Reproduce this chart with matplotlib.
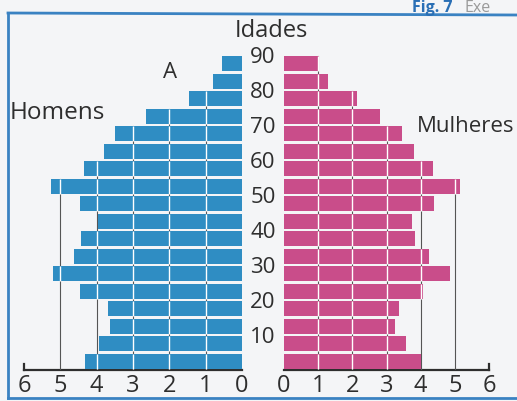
#! /usr/bin/env python3
#
import matplotlib
matplotlib.use('Agg')
import matplotlib.pyplot as plt
from matplotlib.lines import Line2D
from matplotlib.collections import LineCollection

plt.rcParams['font.family'] = ['Open Sans', 'DejaVu Sans']

# age groups, bottom (0-4) to top (85-89)
age_start = [0, 5, 10, 15, 20, 25, 30, 35, 40, 45, 50, 55, 60, 65, 70, 75, 80, 85]
homens = [4.33, 3.93, 3.63, 3.68, 4.45, 5.2, 4.62, 4.42, 3.95, 4.47,
          5.25, 4.35, 3.8, 3.5, 2.65, 1.45, 0.8, 0.55]
mulheres = [4.0, 3.58, 3.25, 3.38, 4.08, 4.85, 4.25, 3.83, 3.74, 4.4,
            5.15, 4.35, 3.8, 3.45, 2.8, 2.15, 1.3, 1.03]
age_ticks = [10, 20, 30, 40, 50, 60, 70, 80, 90]
x_ticks = [0, 1, 2, 3, 4, 5, 6]

blue = '#2f8dc3'
pink = '#c94d8a'
bg = '#f4f5f7'
dark = '#2e2e2e'

W, H = 517, 401
fig = plt.figure(figsize=(W / 100, H / 100), dpi=100, facecolor=bg)


def px_axes(x0, x1, y_top, y_bot):
    return fig.add_axes([x0 / W, 1 - y_bot / H, (x1 - x0) / W, (y_bot - y_top) / H])


ax_l = px_axes(24, 242, 55, 370)
ax_r = px_axes(284, 489, 55, 370)

gap = 0.8
bar_h = 5 - gap


def draw_side(ax, vals, color):
    ax.set_facecolor('none')
    ax.barh([a + gap / 2 for a in age_start], vals, height=bar_h, align='edge',
            color=color, zorder=2)
    # grid lines: dark outside the bars, white across them
    for k in range(1, 6):
        tops = [a + 5 - gap / 2 for a, v in zip(age_start, vals) if v > k]
        if tops:
            ax.plot([k, k], [0, max(tops)], color='#555555', lw=0.8, zorder=1)
    segs = []
    for a, v in zip(age_start, vals):
        for k in range(1, int(v) + 1):
            if k < v:
                segs.append([(k, a + gap / 2), (k, a + gap / 2 + bar_h)])
    ax.add_collection(LineCollection(segs, colors='white', linewidths=1.0, zorder=3))
    ax.set_ylim(0, 90)
    ax.set_xticks(x_ticks)
    ax.set_xticklabels([str(t) for t in x_ticks], fontsize=17, color=dark)
    ax.tick_params(axis='x', length=0, pad=3)
    ax.set_yticks([])
    for s in ['top', 'left', 'right']:
        ax.spines[s].set_visible(False)
    ax.spines['bottom'].set_color(dark)
    ax.spines['bottom'].set_linewidth(1.6)
    ax.spines['bottom'].set_zorder(0)
    ax.plot([6, 6], [0, 1.8], color=dark, lw=1.6, clip_on=False)


draw_side(ax_l, homens, blue)
ax_l.set_xlim(6, 0)
draw_side(ax_r, mulheres, pink)
ax_r.set_xlim(0, 6)

# age labels between the two halves
for a in age_ticks:
    ax_r.text(-0.62, a - 0.8, str(a), ha='center', va='center', fontsize=16,
              color=dark, clip_on=False)

fig.text(271 / W, 1 - 31 / H, 'Idades', ha='center', va='center', fontsize=17, color=dark)
fig.text(170 / W, 1 - 72 / H, 'A', ha='center', va='center', fontsize=16, color=dark)
fig.text(57 / W, 1 - 113 / H, 'Homens', ha='center', va='center', fontsize=17.5, color=dark)
fig.text(466 / W, 1 - 127 / H, 'Mulheres', ha='center', va='center', fontsize=16, color=dark)

# caption at top right, above the frame
fig.text(412 / W, 1.0, 'Fig. 7', ha='left', va='top', fontsize=11.5,
         fontweight='bold', color='#2a6fb5')
fig.text(464 / W, 1.0, 'Exe', ha='left', va='top', fontsize=11.5, color='#9a9a9a')

# blue frame
fc = '#3a82c2'
fig.add_artist(Line2D([8 / W, 1.0], [1 - 13 / H, 1 - 15 / H], color=fc, lw=2))
fig.add_artist(Line2D([8 / W, 8 / W], [1 - 13 / H, 1 - 398 / H], color=fc, lw=2))
fig.add_artist(Line2D([8 / W, 1.0], [1 - 398 / H, 1 - 398 / H], color=fc, lw=2))

fig.savefig('out.png', dpi=100, facecolor=bg)
